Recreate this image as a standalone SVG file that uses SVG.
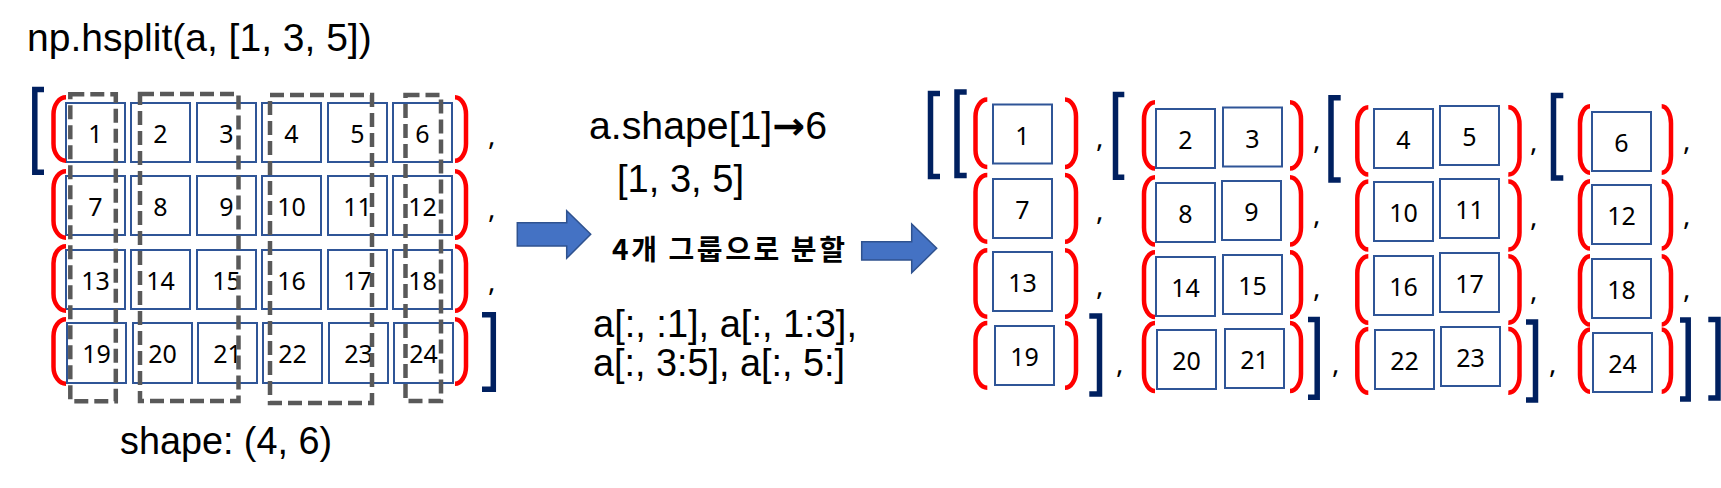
<svg xmlns="http://www.w3.org/2000/svg" width="1721" height="488" viewBox="0 0 1721 488">
<style>
.cell{fill:#fff;stroke:#2F5597;stroke-width:2}
.num{font-family:"Noto Sans","Open Sans",sans-serif;font-size:25px;text-anchor:middle;fill:#000}
.cm{font-family:"Noto Sans","Open Sans",sans-serif;font-size:28px;fill:#000}
.rb{fill:none;stroke:#FF0000;stroke-width:4.5}
.nb{fill:none;stroke:#002060;stroke-width:5.5}
.dash{fill:none;stroke:#595959;stroke-width:4.5;stroke-dasharray:14 6}
.lbl{font-family:"Liberation Sans",Arial,sans-serif;font-size:38px;fill:#000}
.kr{font-family:"Noto Sans CJK KR",sans-serif;font-size:28px;font-weight:bold;fill:#000}
.arrow{fill:#4472C4;stroke:#2F528F;stroke-width:1.5}
</style>
<rect width="1721" height="488" fill="#fff"/>

<!-- Labels -->
<g id="labels">
<text class="lbl" x="27" y="51" style="font-size:39px">np.hsplit(a, [1, 3, 5])</text>
<text class="lbl" x="120" y="454" textLength="212" lengthAdjust="spacingAndGlyphs">shape: (4, 6)</text>
<text class="lbl" x="589" y="139" textLength="238" lengthAdjust="spacingAndGlyphs">a.shape[1]<tspan style="font-family:'DejaVu Sans',sans-serif;font-weight:bold">→</tspan>6</text>
<text class="lbl" x="617" y="192" textLength="127" lengthAdjust="spacingAndGlyphs">[1, 3, 5]</text>
<text class="kr" x="612" y="260" textLength="233" lengthAdjust="spacing">4개 그룹으로 분할</text>
<text class="lbl" x="593" y="337" textLength="264" lengthAdjust="spacingAndGlyphs">a[:, :1], a[:, 1:3],</text>
<text class="lbl" x="593" y="376" textLength="252" lengthAdjust="spacingAndGlyphs">a[:, 3:5], a[:, 5:]</text>
</g>

<!-- Left matrix -->
<g id="left-matrix">
<g id="L1"><rect class="cell" x="66" y="103" width="59" height="59"/><text class="num" x="95.5" y="143">1</text></g>
<g id="L2"><rect class="cell" x="131" y="103" width="59" height="59"/><text class="num" x="160.5" y="143">2</text></g>
<g id="L3"><rect class="cell" x="197" y="103" width="59" height="59"/><text class="num" x="226.5" y="143">3</text></g>
<g id="L4"><rect class="cell" x="262" y="103" width="59" height="59"/><text class="num" x="291.5" y="143">4</text></g>
<g id="L5"><rect class="cell" x="328" y="103" width="59" height="59"/><text class="num" x="357.5" y="143">5</text></g>
<g id="L6"><rect class="cell" x="393" y="103" width="59" height="59"/><text class="num" x="422.5" y="143">6</text></g>
<g id="L7"><rect class="cell" x="66" y="176" width="59" height="59"/><text class="num" x="95.5" y="216">7</text></g>
<g id="L8"><rect class="cell" x="131" y="176" width="59" height="59"/><text class="num" x="160.5" y="216">8</text></g>
<g id="L9"><rect class="cell" x="197" y="176" width="59" height="59"/><text class="num" x="226.5" y="216">9</text></g>
<g id="L10"><rect class="cell" x="262" y="176" width="59" height="59"/><text class="num" x="291.5" y="216">10</text></g>
<g id="L11"><rect class="cell" x="328" y="176" width="59" height="59"/><text class="num" x="357.5" y="216">11</text></g>
<g id="L12"><rect class="cell" x="393" y="176" width="59" height="59"/><text class="num" x="422.5" y="216">12</text></g>
<g id="L13"><rect class="cell" x="66" y="250" width="59" height="59"/><text class="num" x="95.5" y="290">13</text></g>
<g id="L14"><rect class="cell" x="131" y="250" width="59" height="59"/><text class="num" x="160.5" y="290">14</text></g>
<g id="L15"><rect class="cell" x="197" y="250" width="59" height="59"/><text class="num" x="226.5" y="290">15</text></g>
<g id="L16"><rect class="cell" x="262" y="250" width="59" height="59"/><text class="num" x="291.5" y="290">16</text></g>
<g id="L17"><rect class="cell" x="328" y="250" width="59" height="59"/><text class="num" x="357.5" y="290">17</text></g>
<g id="L18"><rect class="cell" x="393" y="250" width="59" height="59"/><text class="num" x="422.5" y="290">18</text></g>
<g id="L19"><rect class="cell" x="67" y="323" width="59" height="60"/><text class="num" x="96.5" y="363">19</text></g>
<g id="L20"><rect class="cell" x="133" y="323" width="59" height="60"/><text class="num" x="162.5" y="363">20</text></g>
<g id="L21"><rect class="cell" x="198" y="323" width="59" height="60"/><text class="num" x="227.5" y="363">21</text></g>
<g id="L22"><rect class="cell" x="263" y="323" width="59" height="60"/><text class="num" x="292.5" y="363">22</text></g>
<g id="L23"><rect class="cell" x="329" y="323" width="59" height="60"/><text class="num" x="358.5" y="363">23</text></g>
<g id="L24"><rect class="cell" x="394" y="323" width="59" height="60"/><text class="num" x="423.5" y="363">24</text></g>
<g id="L-dashes">
<rect class="dash" x="70.3" y="94.3" width="45.5" height="307"/>
<rect class="dash" x="140" y="94" width="98.5" height="307"/>
<rect class="dash" x="270" y="95" width="102" height="308"/>
<rect class="dash" x="405.5" y="95" width="35.5" height="306"/>
</g>
<g id="L-brackets">
<path class="rb" d="M66,97.3 A12.5,17 0 0 0 53.5,114.3 V143.7 A12.5,17 0 0 0 66,160.7"/>
<path class="rb" d="M66,171.2 A12.5,17 0 0 0 53.5,188.2 V220.7 A12.5,17 0 0 0 66,237.7"/>
<path class="rb" d="M66,246.2 A12.5,17 0 0 0 53.5,263.2 V293.7 A12.5,17 0 0 0 66,310.7"/>
<path class="rb" d="M66,319.2 A12.5,17 0 0 0 53.5,336.2 V366.7 A12.5,17 0 0 0 66,383.7"/>
<path class="rb" d="M455,97.3 A11,17 0 0 1 466,114.3 V143.7 A11,17 0 0 1 455,160.7"/>
<path class="rb" d="M455,171.2 A11,17 0 0 1 466,188.2 V220.7 A11,17 0 0 1 455,237.7"/>
<path class="rb" d="M455,246.2 A11,17 0 0 1 466,263.2 V293.7 A11,17 0 0 1 455,310.7"/>
<path class="rb" d="M455,319.2 A11,17 0 0 1 466,336.2 V366.7 A11,17 0 0 1 455,383.7"/>
<path class="nb" d="M44,89.5 H34.8 V172.2 H44"/>
<path class="nb" d="M482,314.8 H493.3 V389.3 H482"/>
<text class="cm" x="488" y="145">,</text>
<text class="cm" x="488" y="218">,</text>
<text class="cm" x="488" y="291">,</text>
</g>
</g>

<!-- Arrows -->
<g id="connectors">
<polygon class="arrow" points="517.3,222.7 566.7,222.7 566.7,210.7 590.7,234.3 566.7,258.3 566.7,246 517.3,246"/>
<polygon class="arrow" points="861.7,241.7 911.7,241.7 911.7,224 936.7,248.3 911.7,272.7 911.7,260 861.7,260"/>
</g>

<!-- Right result -->
<g id="right-result">
<path class="nb" d="M940,93.5 H930.5 V176.5 H940"/>
<g id="group1">
<path class="nb" d="M966.7,92 H957 V175.5 H966.7"/>
<path class="rb" d="M987.3,99.5 A11.8,17 0 0 0 975.5,116.5 V150 A11.8,17 0 0 0 987.3,167"/>
<path class="rb" d="M987.3,175 A11.8,17 0 0 0 975.5,192 V224.7 A11.8,17 0 0 0 987.3,241.7"/>
<path class="rb" d="M987.3,250.3 A11.8,17 0 0 0 975.5,267.3 V299.7 A11.8,17 0 0 0 987.3,316.7"/>
<path class="rb" d="M987.3,323 A11.8,17 0 0 0 975.5,340 V370.7 A11.8,17 0 0 0 987.3,387.7"/>
<path class="rb" d="M1065,99.5 A11,17 0 0 1 1076,116.5 V150 A11,17 0 0 1 1065,167"/>
<path class="rb" d="M1065,175 A11,17 0 0 1 1076,192 V224.7 A11,17 0 0 1 1065,241.7"/>
<path class="rb" d="M1065,250.3 A11,17 0 0 1 1076,267.3 V299.7 A11,17 0 0 1 1065,316.7"/>
<path class="rb" d="M1065,323 A11,17 0 0 1 1076,340 V370.7 A11,17 0 0 1 1065,387.7"/>
<path class="nb" d="M1089.3,316 H1099.5 V394 H1089.3"/>
<g id="R1"><rect class="cell" x="993" y="104.5" width="59" height="59"/><text class="num" x="1022.5" y="145">1</text></g>
<g id="R7"><rect class="cell" x="993" y="179" width="59" height="59"/><text class="num" x="1022.5" y="219">7</text></g>
<g id="R13"><rect class="cell" x="993" y="252" width="59" height="59"/><text class="num" x="1022.5" y="292">13</text></g>
<g id="R19"><rect class="cell" x="995" y="326" width="59" height="59"/><text class="num" x="1024.5" y="366">19</text></g>
<text class="cm" x="1096" y="147">,</text>
<text class="cm" x="1096" y="220">,</text>
<text class="cm" x="1096" y="295">,</text>
<text class="cm" x="1116" y="373">,</text>
</g>
<g id="group2">
<path class="nb" d="M1124.3,94.5 H1115.5 V177.2 H1124.3"/>
<path class="rb" d="M1155,102.3 A11,17 0 0 0 1144,119.3 V151.5 A11,17 0 0 0 1155,168.5"/>
<path class="rb" d="M1155,177.3 A11,17 0 0 0 1144,194.3 V227.5 A11,17 0 0 0 1155,244.5"/>
<path class="rb" d="M1155,252.3 A11,17 0 0 0 1144,269.3 V300 A11,17 0 0 0 1155,317"/>
<path class="rb" d="M1155,323 A11,17 0 0 0 1144,340 V374 A11,17 0 0 0 1155,391"/>
<path class="rb" d="M1290,102.3 A11,17 0 0 1 1301,119.3 V151.5 A11,17 0 0 1 1290,168.5"/>
<path class="rb" d="M1290,177.3 A11,17 0 0 1 1301,194.3 V227.5 A11,17 0 0 1 1290,244.5"/>
<path class="rb" d="M1290,252.3 A11,17 0 0 1 1301,269.3 V300 A11,17 0 0 1 1290,317"/>
<path class="rb" d="M1290,323 A11,17 0 0 1 1301,340 V374 A11,17 0 0 1 1290,391"/>
<path class="nb" d="M1308,319.5 H1317.2 V397.2 H1308"/>
<g id="R2"><rect class="cell" x="1156" y="109" width="59" height="59"/><text class="num" x="1185.5" y="149">2</text></g>
<g id="R3"><rect class="cell" x="1223" y="107.5" width="59" height="59"/><text class="num" x="1252.5" y="147.5">3</text></g>
<g id="R8"><rect class="cell" x="1156" y="183" width="59" height="59"/><text class="num" x="1185.5" y="223">8</text></g>
<g id="R9"><rect class="cell" x="1222" y="181" width="59" height="59"/><text class="num" x="1251.5" y="221">9</text></g>
<g id="R14"><rect class="cell" x="1156" y="257" width="59" height="59"/><text class="num" x="1185.5" y="297">14</text></g>
<g id="R15"><rect class="cell" x="1223" y="255" width="59" height="59"/><text class="num" x="1252.5" y="295">15</text></g>
<g id="R20"><rect class="cell" x="1157" y="330" width="59" height="59"/><text class="num" x="1186.5" y="370">20</text></g>
<g id="R21"><rect class="cell" x="1225" y="329" width="59" height="59"/><text class="num" x="1254.5" y="369">21</text></g>
<text class="cm" x="1313" y="149">,</text>
<text class="cm" x="1313" y="224">,</text>
<text class="cm" x="1313" y="297">,</text>
<text class="cm" x="1332" y="373">,</text>
</g>
<g id="group3">
<path class="nb" d="M1340.7,97.8 H1331 V180 H1340.7"/>
<path class="rb" d="M1368.3,107.3 A11,17 0 0 0 1357.3,124.3 V157.5 A11,17 0 0 0 1368.3,174.5"/>
<path class="rb" d="M1368.3,181.6 A11,17 0 0 0 1357.3,198.6 V232.5 A11,17 0 0 0 1368.3,249.5"/>
<path class="rb" d="M1368.3,256.3 A11,17 0 0 0 1357.3,273.3 V305.7 A11,17 0 0 0 1368.3,322.7"/>
<path class="rb" d="M1368.3,329 A11,17 0 0 0 1357.3,346 V375.7 A11,17 0 0 0 1368.3,392.7"/>
<path class="rb" d="M1508.3,107.3 A11,17 0 0 1 1519.5,124.3 V157.5 A11,17 0 0 1 1508.3,174.5"/>
<path class="rb" d="M1508.3,181.6 A11,17 0 0 1 1519.5,198.6 V232.5 A11,17 0 0 1 1508.3,249.5"/>
<path class="rb" d="M1508.3,256.3 A11,17 0 0 1 1519.5,273.3 V305.7 A11,17 0 0 1 1508.3,322.7"/>
<path class="rb" d="M1508.3,329 A11,17 0 0 1 1519.5,346 V375.7 A11,17 0 0 1 1508.3,392.7"/>
<path class="nb" d="M1526,322 H1535.5 V400 H1526"/>
<g id="R4"><rect class="cell" x="1374" y="109" width="59" height="59"/><text class="num" x="1403.5" y="149">4</text></g>
<g id="R5"><rect class="cell" x="1440" y="106" width="59" height="59"/><text class="num" x="1469.5" y="146">5</text></g>
<g id="R10"><rect class="cell" x="1374" y="182" width="59" height="59"/><text class="num" x="1403.5" y="222">10</text></g>
<g id="R11"><rect class="cell" x="1440" y="179" width="59" height="59"/><text class="num" x="1469.5" y="219">11</text></g>
<g id="R16"><rect class="cell" x="1374" y="256" width="59" height="59"/><text class="num" x="1403.5" y="296">16</text></g>
<g id="R17"><rect class="cell" x="1440" y="253" width="59" height="59"/><text class="num" x="1469.5" y="293">17</text></g>
<g id="R22"><rect class="cell" x="1375" y="330" width="59" height="59"/><text class="num" x="1404.5" y="370">22</text></g>
<g id="R23"><rect class="cell" x="1441" y="327" width="59" height="59"/><text class="num" x="1470.5" y="367">23</text></g>
<text class="cm" x="1530" y="151">,</text>
<text class="cm" x="1530" y="226">,</text>
<text class="cm" x="1530" y="300">,</text>
<text class="cm" x="1549" y="373">,</text>
</g>
<g id="group4">
<path class="nb" d="M1563.3,95.5 H1553.5 V178 H1563.3"/>
<path class="rb" d="M1590,106.3 A10,17 0 0 0 1580,123.3 V155.7 A10,17 0 0 0 1590,172.7"/>
<path class="rb" d="M1590,181.3 A10,17 0 0 0 1580,198.3 V231.5 A10,17 0 0 0 1590,248.5"/>
<path class="rb" d="M1590,256.3 A10,17 0 0 0 1580,273.3 V307.5 A10,17 0 0 0 1590,324.5"/>
<path class="rb" d="M1590,329.6 A10,17 0 0 0 1580,346.6 V374.7 A10,17 0 0 0 1590,391.7"/>
<path class="rb" d="M1661.7,106.3 A9.3,17 0 0 1 1671,123.3 V155.7 A9.3,17 0 0 1 1661.7,172.7"/>
<path class="rb" d="M1661.7,181.3 A9.3,17 0 0 1 1671,198.3 V231.5 A9.3,17 0 0 1 1661.7,248.5"/>
<path class="rb" d="M1661.7,256.3 A9.3,17 0 0 1 1671,273.3 V307.5 A9.3,17 0 0 1 1661.7,324.5"/>
<path class="rb" d="M1661.7,329.6 A9.3,17 0 0 1 1671,346.6 V374.7 A9.3,17 0 0 1 1661.7,391.7"/>
<path class="nb" d="M1680,320 H1688.2 V399 H1680"/>
<g id="R6"><rect class="cell" x="1592" y="112" width="59" height="59"/><text class="num" x="1621.5" y="152">6</text></g>
<g id="R12"><rect class="cell" x="1592" y="185" width="59" height="59"/><text class="num" x="1621.5" y="225">12</text></g>
<g id="R18"><rect class="cell" x="1592" y="259" width="59" height="59"/><text class="num" x="1621.5" y="299">18</text></g>
<g id="R24"><rect class="cell" x="1593" y="333" width="59" height="59"/><text class="num" x="1622.5" y="373">24</text></g>
<text class="cm" x="1683" y="150">,</text>
<text class="cm" x="1683" y="225">,</text>
<text class="cm" x="1683" y="298">,</text>
</g>
<path class="nb" d="M1708.3,319.5 H1718 V398 H1708.3"/>
</g>
</svg>
